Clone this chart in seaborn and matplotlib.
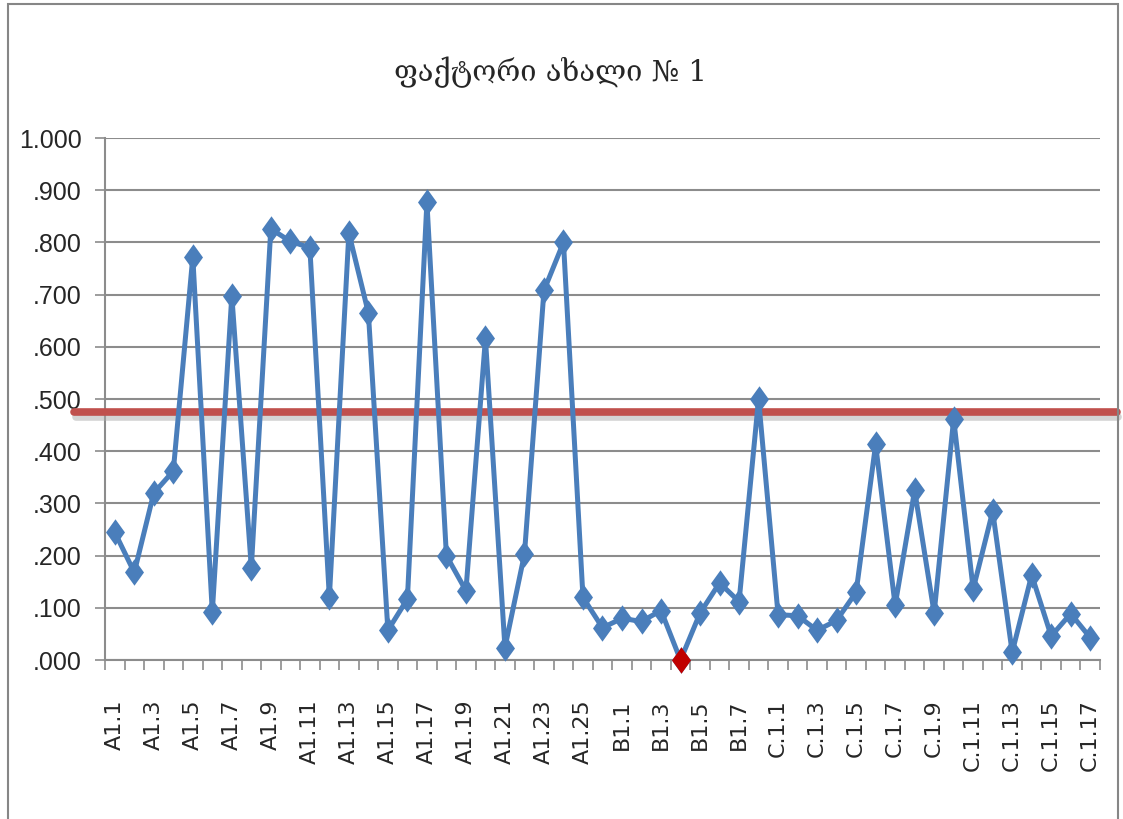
import numpy as np
import pandas as pd
import matplotlib
matplotlib.use('Agg')
import matplotlib.pyplot as plt
import matplotlib.patheffects as pe
from matplotlib.patches import Rectangle
import seaborn as sns

# categories: A1.1-A1.26, B1.1-B1.8, C.1.1-C.1.17
labels = (['A1.%d' % i for i in range(1, 27)]
          + ['B1.%d' % i for i in range(1, 9)]
          + ['C.1.%d' % i for i in range(1, 18)])

values = [0.245, 0.168, 0.320, 0.362, 0.772, 0.092, 0.698, 0.177, 0.826, 0.802,
          0.790, 0.120, 0.818, 0.665, 0.057, 0.117, 0.877, 0.200, 0.133, 0.616,
          0.024, 0.203, 0.708, 0.800, 0.120, 0.062,
          0.080, 0.074, 0.095, 0.000, 0.090, 0.148, 0.112, 0.500,
          0.087, 0.085, 0.057, 0.076, 0.130, 0.413, 0.105, 0.325, 0.090,
          0.462, 0.136, 0.285, 0.015, 0.163, 0.046, 0.089, 0.043]

threshold = 0.476
lowest = 'B1.4'   # highlighted in red

title = 'ფაქტორი ახალი № 1'

df = pd.DataFrame({'label': labels, 'value': values})
df['pos'] = np.arange(len(df))

sns.set_style('white')
plt.rcParams['font.family'] = ['DejaVu Sans']

blue = '#4A7EBB'
grey = '#8C8C8C'
diamond = [(0, 1), (0.72, 0), (0, -1), (-0.72, 0), (0, 1)]

fig = plt.figure(figsize=(11.23, 8.19), dpi=100)
ax = fig.add_axes([0.0935, 0.194, 0.886, 0.6375])

sns.lineplot(data=df, x='pos', y='value', ax=ax, color=blue, linewidth=3.6,
             marker=diamond, markersize=19, markeredgewidth=0,
             markerfacecolor=blue, clip_on=False, zorder=4)

red = df[df['label'] == lowest]
ax.plot(red['pos'], red['value'], linestyle='none', marker=diamond,
        markersize=19, color='#C00000', markeredgewidth=0, clip_on=False, zorder=5)

# threshold line, runs a bit past the plot area on both sides
ax.plot([-0.031, 1.017], [threshold, threshold], transform=ax.get_yaxis_transform(),
        color='#C0504D', linewidth=5.5, clip_on=False, zorder=3,
        path_effects=[pe.SimpleLineShadow(offset=(1, -4), shadow_color='#AAAAAA', alpha=0.5),
                      pe.Normal()])

ax.set_xlim(-0.5, len(df) - 0.5)
ax.set_ylim(0, 1)
ax.set_yticks(np.arange(0, 1.01, 0.1))
ax.set_yticklabels(['1.000' if v > 0.99 else ('%.3f' % v)[1:] for v in np.arange(0, 1.01, 0.1)],
                   family=['Liberation Sans Narrow', 'Liberation Sans', 'DejaVu Sans'],
                   fontsize=18)
ax.grid(axis='y', color=grey, linewidth=1.5)
ax.set_axisbelow(True)

ax.set_xticks(df['pos'][::2])
ax.set_xticklabels(df['label'][::2], rotation=90, fontsize=16, va='top', ha='center',
                   family=['DejaVu Sans'])
ax.set_xticks(np.arange(-0.5, len(df), 1.0), minor=True)
ax.tick_params(axis='x', which='major', length=0, pad=28)
ax.tick_params(axis='x', which='minor', length=7, width=1.2, color=grey, direction='out')
ax.tick_params(axis='y', length=7, width=1.2, color=grey, direction='out', pad=10)
ax.xaxis.set_ticks_position('bottom')
ax.yaxis.set_ticks_position('left')

for s in ['top', 'right']:
    ax.spines[s].set_visible(False)
for s in ['left', 'bottom']:
    ax.spines[s].set_color(grey)
    ax.spines[s].set_linewidth(1.5)

ax.set_xlabel('')
ax.set_ylabel('')

fig.text(0.49, 0.912, title, ha='center', va='center', fontsize=21,
         family=['DejaVu Serif', 'DejaVu Sans'])

# chart area frame
fig.patches.append(Rectangle((8 / 1123, -0.01), 1110 / 1123, 1.01 - 4 / 819,
                             transform=fig.transFigure, fill=False,
                             edgecolor='#868686', linewidth=1.5))

fig.savefig('out.png', dpi=100)
